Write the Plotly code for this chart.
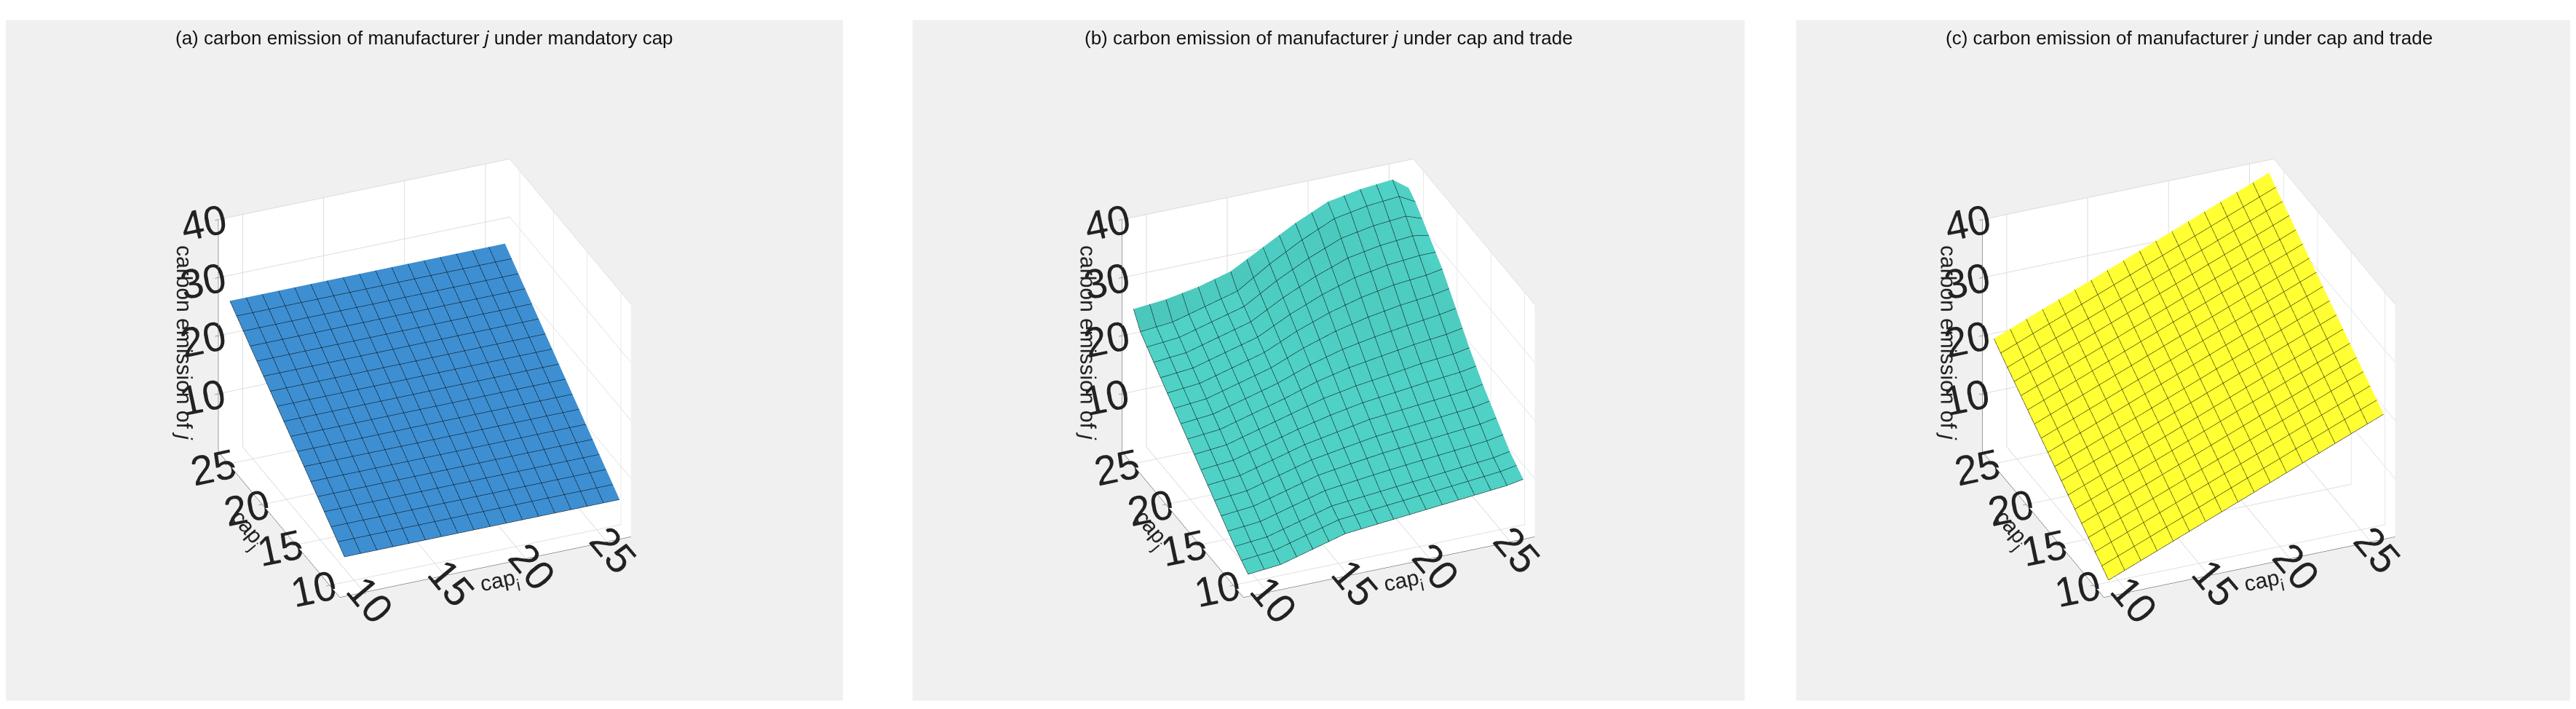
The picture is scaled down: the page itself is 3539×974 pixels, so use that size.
import plotly.graph_objects as go

cap_i = [9, 11, 13, 15, 17, 19, 21, 23, 25, 26]
cap_j = [9, 11, 13, 15, 17, 19, 21, 23, 25, 26]

z_a_rows = [6, 8.4, 10.8, 13.2, 15.6, 18, 20.4, 22.8, 25.2, 26.4]
z_a = [[v] * len(cap_i) for v in z_a_rows]

z_b = [
    [3, 3.5, 5, 6.5, 7, 7.5, 8, 8.5, 9, 9.5],
    [5, 5.5, 7, 8.5, 9, 9.5, 10, 10.5, 11, 11.5],
    [7.5, 8, 9.5, 11, 11.8, 12.5, 13, 13.5, 14, 14.5],
    [10, 10.5, 12, 13.5, 14.5, 15.5, 16, 16.5, 17, 17.5],
    [12.5, 13, 14.5, 16, 17.5, 18.5, 19.2, 20, 20.5, 21],
    [15, 15.5, 17, 18.5, 20.5, 22, 23, 23.8, 24.5, 25],
    [17.5, 18, 19.5, 21, 23.5, 25.5, 27, 28, 28.5, 29],
    [20, 20.5, 22, 23.5, 26.5, 29, 31, 32, 32.5, 32],
    [22.5, 23, 24.5, 26, 29.5, 32.5, 35, 36, 36.5, 35],
    [25, 25.5, 26.5, 28, 31, 34, 36.5, 37.5, 38, 36],
]

z_c = [
    [2, 4.2, 6.4, 8.6, 10.8, 13, 15.2, 17.4, 19.6, 20.7],
    [4.1, 6.3, 8.5, 10.7, 12.9, 15.1, 17.3, 19.5, 21.7, 22.8],
    [6.2, 8.4, 10.6, 12.8, 15, 17.2, 19.4, 21.6, 23.8, 24.9],
    [8.3, 10.5, 12.7, 14.9, 17.1, 19.3, 21.5, 23.7, 25.9, 27],
    [10.4, 12.6, 14.8, 17, 19.2, 21.4, 23.6, 25.8, 28, 29.1],
    [12.5, 14.7, 16.9, 19.1, 21.3, 23.5, 25.7, 27.9, 30.1, 31.2],
    [14.6, 16.8, 19, 21.2, 23.4, 25.6, 27.8, 30, 32.2, 33.3],
    [16.7, 18.9, 21.1, 23.3, 25.5, 27.7, 29.9, 32.1, 34.3, 35.4],
    [18.8, 21, 23.2, 25.4, 27.6, 29.8, 32, 34.2, 36.4, 37.5],
    [19.9, 22.1, 24.3, 26.5, 28.7, 30.9, 33.1, 35.3, 37.5, 38.6],
]

titles = [
    "(a) carbon emission of manufacturer <i>j</i> under mandatory cap",
    "(b) carbon emission of manufacturer <i>j</i> under cap and trade",
    "(c) carbon emission of manufacturer <i>j</i> under cap and trade",
]
colors = ["#3d8fd1", "#4fd1c5", "#ffff33"]
zs = [z_a, z_b, z_c]
panels = [(0.0, 0.325), (0.352, 0.675), (0.695, 1.0)]

FONT = "Liberation Sans, Arial, sans-serif"
fig = go.Figure()
cont = dict(show=True, color="black", width=1.5, start=9, end=26, size=1, highlight=False)
for k in range(3):
    fig.add_trace(go.Surface(
        x=cap_i, y=cap_j, z=zs[k], scene=f"scene{k+1}" if k else "scene",
        colorscale=[[0, colors[k]], [1, colors[k]]], showscale=False,
        contours=dict(x=cont, y=cont),
        lighting=dict(ambient=0.85, diffuse=0.3, specular=0.05),
    ))

axis_common = dict(showbackground=True, backgroundcolor="white", gridcolor="#dcdcdc",
                   linecolor="#444", showline=True, ticks="outside", tickcolor="#444",
                   tickfont=dict(size=26, color="#222", family=FONT),
                   title_font=dict(size=30, color="#222", family=FONT), zeroline=False,
                   showspikes=False)
layout = {}
for k in range(3):
    d0, d1 = panels[k]
    layout["scene" if k == 0 else f"scene{k+1}"] = dict(
        domain=dict(x=[d0 + 0.005, d1 - 0.005], y=[0.03, 0.92]),
        xaxis=dict(axis_common, title=dict(text="cap<sub>i</sub>"), range=[8.5, 26.5], tickvals=[10, 15, 20, 25]),
        yaxis=dict(axis_common, title=dict(text="cap<sub>j</sub>"), range=[8.5, 26.5], tickvals=[10, 15, 20, 25]),
        zaxis=dict(axis_common, title=dict(text="carbon emission of <i>j</i>"), range=[0, 40], tickvals=[10, 20, 30, 40]),
        aspectmode="manual", aspectratio=dict(x=1, y=1, z=0.85),
        camera=dict(eye=dict(x=-0.5, y=-1.2, z=0.75), projection=dict(type="orthographic")),
        bgcolor="rgba(0,0,0,0)",
    )
    fig.add_shape(type="rect", xref="paper", yref="paper", x0=d0, x1=d1, y0=0.02, y1=0.98,
                  fillcolor="#f0f0f0", line=dict(width=0), layer="below")
    fig.add_annotation(text=titles[k], xref="paper", yref="paper", x=(d0 + d1) / 2, y=0.955,
                       xanchor="center", yanchor="middle",
                       showarrow=False, font=dict(size=26, color="#111", family=FONT))

fig.update_layout(**layout, width=3539, height=974, paper_bgcolor="white",
                  margin=dict(l=0, r=0, t=0, b=0), showlegend=False)
fig.write_html("out.html")
